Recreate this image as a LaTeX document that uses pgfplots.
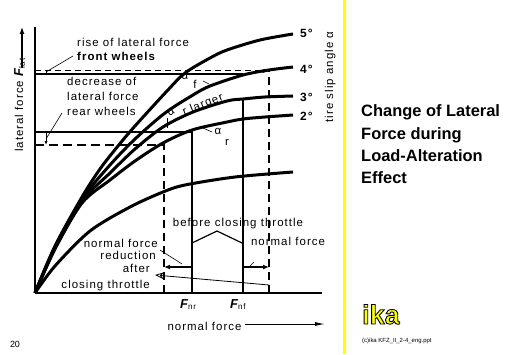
\documentclass[border=0pt]{standalone}
\usepackage{pgfplots}
\pgfplotsset{compat=1.18}
\usepackage{fontspec}
\setmainfont{Liberation Sans}[LetterSpace=9]
\newfontfamily\titlefont{Liberation Sans}
\usetikzlibrary{arrows.meta}
\begin{document}
\begin{tikzpicture}[x=1bp,y=1bp,
  every node/.style={inner sep=0pt, font=\fontsize{11.5}{13}\selectfont, text height=8bp, text depth=2bp}]
\fill[white] (0,0) rectangle (512,354);
\begin{axis}[
  at={(35bp,61bp)}, anchor=south west,
  scale only axis, width=287bp, height=266bp,
  xmin=0, xmax=287, ymin=0, ymax=266,
  axis lines=left, axis line style={-, line width=2.2bp},
  ticks=none, clip=false,
  every axis plot/.append style={black, no markers},
]
% tire curves
\addplot[line width=3bp, smooth] coordinates {(0,0)(20,47)(47,96)(65,124)(83,147)(100,167)(132,202)(150,220)(175,235)(192,243)(225,253)(258,259)};
\addplot[line width=3bp, smooth] coordinates {(0,0)(20,46)(47,94)(75,128)(100,154)(130,180)(158,198)(175,207)(208,218)(234,223)(258,226)};
\addplot[line width=3bp, smooth] coordinates {(0,0)(20,45)(47,92)(75,120)(100,144)(128,166)(158,181)(192,192)(208,194)(230,196)(258,197)};
\addplot[line width=3bp, smooth] coordinates {(0,0)(20,44)(47,90)(75,113)(100,132)(128,150)(157,163)(192,171)(208,174)(230,176)(258,178)};
\addplot[line width=3bp, smooth] coordinates {(0,0)(20,27)(55,62)(95,86)(128,101)(150,108)(200,116)(258,121)};
% reference lines
\addplot[line width=1.8bp] coordinates {(157,0)(157,163)};
\addplot[line width=1.8bp] coordinates {(208,0)(208,194)};
\addplot[line width=2bp, dash pattern=on 8bp off 5bp] coordinates {(129,0)(129,155)};
\addplot[line width=2bp, dash pattern=on 8bp off 5bp] coordinates {(234,0)(234,223)};
\addplot[line width=1.8bp] coordinates {(0,219)(208,219)};
\addplot[line width=1bp, dash pattern=on 6bp off 4bp] coordinates {(0,222)(240,222)};
\addplot[line width=2bp] coordinates {(0,161)(157,161)};
\addplot[line width=2bp, dash pattern=on 9bp off 5bp] coordinates {(0,148)(129,148)};
% small marks
\draw[-{Latex[length=6bp,width=4bp]}, line width=1bp] (222,222) -- (234,222);
\draw[line width=0.8bp] (11,219) -- (11,222);
\draw[line width=0.8bp, -{Latex[length=4bp,width=3bp]}] (11,161) -- (11,148);
\draw[line width=0.6bp] (38,237) -- (11,221);
\draw[line width=0.6bp] (27,180) -- (11,154);
\draw[line width=0.6bp] (132,175) -- (132,165);
\draw[line width=0.6bp] (168,212) -- (174,209);
\draw[line width=0.6bp] (168,165) -- (177,161);
% chevron and arrows
\draw[line width=1.2bp] (157,50) -- (182,62) -- (207,50);
\draw[line width=2bp, -{Latex[length=6bp,width=5bp]}] (157,26) -- (129,26);
\draw[line width=2bp, -{Latex[length=6bp,width=5bp]}] (208,26) -- (234,26);
\draw[line width=0.8bp, -{Stealth[open,length=9bp,width=7bp]}] (234,8) -- (120,18);
\draw[line width=0.6bp] (125,43) -- (147,29);
\draw[line width=0.6bp] (214,26) -- (219,31);
\draw[line width=1bp, -{Latex[length=10bp,width=4bp]}] (210,-31) -- (290,-31);
\draw[line width=1.2bp, -{Latex[length=7bp,width=5bp]}] (-13,225) -- (-13,266);
% texts
\node[anchor=west] at (42,249) {rise of lateral force};
\node[anchor=west] at (42,235) {\bfseries front wheels};
\node[anchor=west] at (32,210) {decrease of};
\node[anchor=west] at (32,195) {lateral force};
\node[anchor=west] at (32,180) {rear wheels};
\node[rotate=90] at (-15,188) {lateral force {\bfseries\itshape\fontsize{13}{13}\selectfont F}\textsubscript{lat}};
\node[rotate=90] at (295,216) {tire slip angle α};
\node[anchor=west, font=\bfseries\fontsize{12}{13}\selectfont] at (265,258) {5°};
\node[anchor=west, font=\bfseries\fontsize{12}{13}\selectfont] at (265,222) {4°};
\node[anchor=west, font=\bfseries\fontsize{12}{13}\selectfont] at (265,194) {3°};
\node[anchor=west, font=\bfseries\fontsize{12}{13}\selectfont] at (265,175) {2°};
\node[text height=6bp, text depth=0bp] at (150,216) {α};
\node[text height=7bp, text depth=0bp] at (160,208) {f};
\node[rotate=30, text height=6bp, text depth=0bp] at (136,181) {α};
\node[rotate=22, text height=7bp, text depth=1bp] at (168,188) {r larger};
\node[text height=6bp, text depth=0bp] at (183,161) {α};
\node[text height=6bp, text depth=0bp] at (192,151) {r};
\node at (203,70) {before closing throttle};
\node at (253,51) {normal force};
\node[anchor=east] at (123,49) {normal force};
\node[anchor=east] at (121,37) {reduction};
\node[anchor=east] at (115,24) {after};
\node[anchor=east] at (115,8) {closing throttle};
\node[anchor=west] at (145,-12) {{\bfseries\itshape\fontsize{13}{13}\selectfont F}\textsubscript{nr}};
\node[anchor=west] at (195,-12) {{\bfseries\itshape\fontsize{13}{13}\selectfont F}\textsubscript{nf}};
\node at (169.5,-34) {normal force};
\end{axis}
% right panel
\draw[color={rgb,255:red,255;green,255;blue,0}, line width=3bp] (344.5,0) -- (344.5,354);
\begin{scope}[every node/.style={inner sep=0pt, anchor=base west, font=\titlefont\bfseries\fontsize{16.5}{20}\selectfont}]
\node at (361,238) {Change of Lateral};
\node at (361,215) {Force during};
\node at (361,193) {Load-Alteration};
\node at (361,171) {Effect};
\end{scope}
\node[inner sep=0pt, anchor=base west, font=\titlefont\bfseries\fontsize{27}{27}\selectfont, text={rgb,255:red,255;green,255;blue,0}] at (362,30) {\special{pdf:literal direct 2 Tr 0.9 w 0 0 0 RG}ika\special{pdf:literal direct 0 Tr}};
\node[anchor=base west, font=\titlefont\fontsize{6}{7}\selectfont] at (362,12) {(c)ika KFZ\_II\_2-4\_eng.ppt};
\node[font=\titlefont\fontsize{9}{10}\selectfont] at (15,10) {20};
\pgfresetboundingbox
\useasboundingbox (0,0) rectangle (512,354);
\end{tikzpicture}
\end{document}
